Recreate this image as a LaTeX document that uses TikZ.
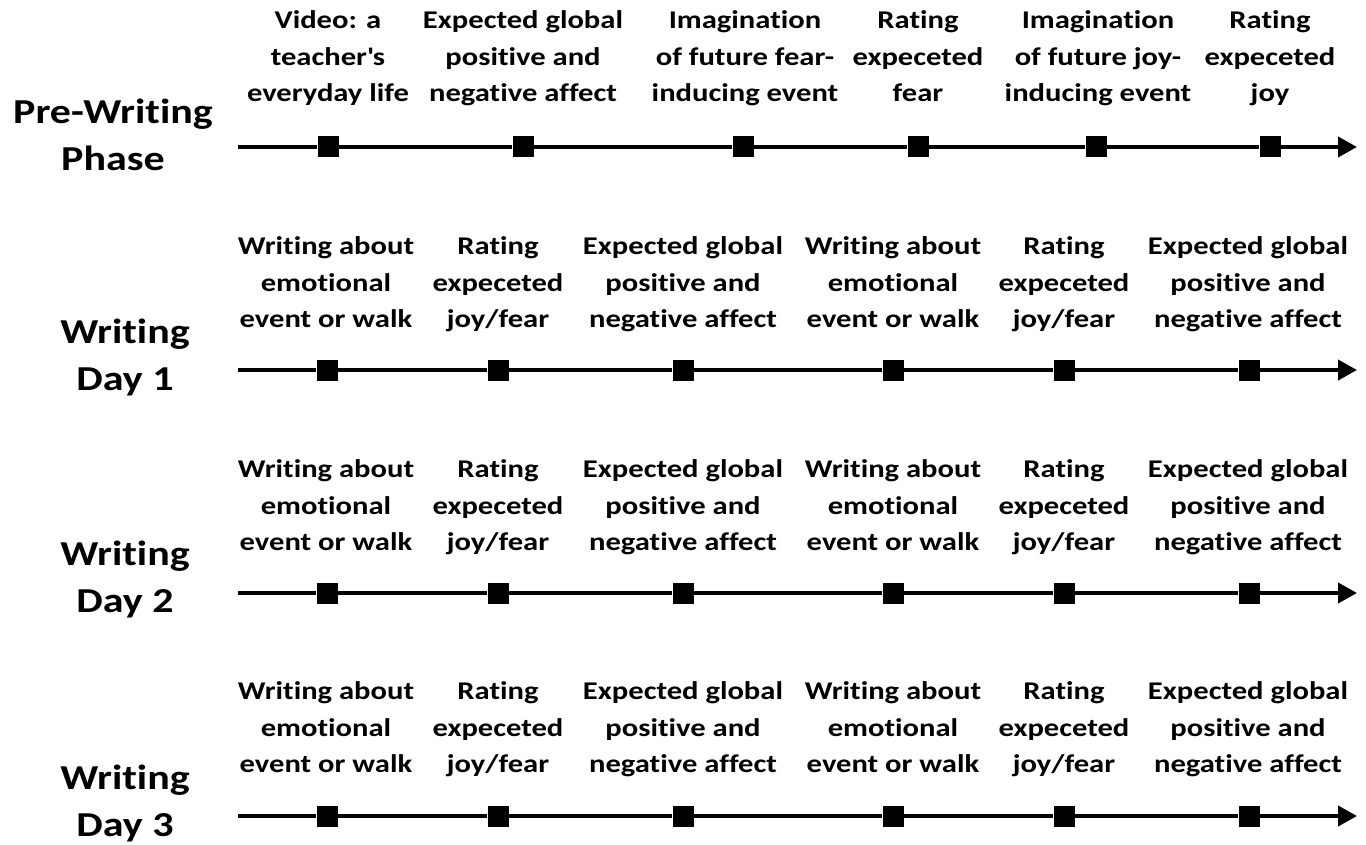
\documentclass[tikz,border=0pt]{standalone}
\usepackage{fontspec}
\setmainfont{Carlito}[Ligatures={TeX,NoCommon}, FakeStretch=1.2]
\usetikzlibrary{arrows.meta}

\tikzset{
  timeline/.style={line width=4pt, -{Triangle[length=19pt,width=20pt]}},
  stamp/.style={rectangle, fill=black, minimum size=21pt, inner sep=0pt},
  event/.style={font=\bfseries\fontsize{25.5}{36.5}\selectfont, align=center, inner sep=0pt,
    execute at begin node=\strut, execute at end node=\strut},
  phase/.style={font=\bfseries\fontsize{35}{47}\selectfont, align=center, inner sep=0pt,
    execute at begin node=\strut, execute at end node=\strut}
}

\begin{document}
\begin{tikzpicture}[x=1pt, y=-1pt]
        \useasboundingbox (0,0) rectangle (1366,845);
        %% pre-writing phase
        \node[phase] (prelabel) at (113,142) {Pre-Writing\\Phase};
        \node[event] (pretxt1) at (328,62) {Video: a\\teacher\textquotesingle s\\everyday life};
        \node[event] (pretxt2) at (523,62) {Expected global\\positive and\\negative affect};
        \node[event] (pretxt3) at (745,62) {Imagination\\of future fear-\\inducing event};
        \node[event] (pretxt4) at (918,62) {Rating\\expeceted\\fear};
        \node[event] (pretxt5) at (1098,62) {Imagination\\of future joy-\\inducing event};
        \node[event] (pretxt6) at (1270,62) {Rating\\expeceted\\joy};
        \coordinate (prestart) at (238,147);
        \coordinate (preend) at (1357,147);
        \node[stamp] (pre1) at (328,147) {};
        \node[stamp] (pre2) at (523,147) {};
        \node[stamp] (pre3) at (743,147) {};
        \node[stamp] (pre4) at (918,147) {};
        \node[stamp] (pre5) at (1096,147) {};
        \node[stamp] (pre6) at (1270,147) {};
        \draw[timeline] (prestart) -- (pre1) -- (pre2) -- (pre3) -- (pre4) -- (pre5) -- (pre6) -- (preend);
        %% writing day 1
        \node[phase] (dayalabel) at (125,362) {Writing\\Day 1};
        \node[event] (dayatxt1) at (326,288) {Writing about\\emotional\\event or walk};
        \node[event] (dayatxt2) at (498,288) {Rating\\expeceted\\joy/fear};
        \node[event] (dayatxt3) at (683,288) {Expected global\\positive and\\negative affect};
        \node[event] (dayatxt4) at (893,288) {Writing about\\emotional\\event or walk};
        \node[event] (dayatxt5) at (1064,288) {Rating\\expeceted\\joy/fear};
        \node[event] (dayatxt6) at (1248,288) {Expected global\\positive and\\negative affect};
        \coordinate (dayastart) at (238,370);
        \coordinate (dayaend) at (1357,370);
        \node[stamp] (daya1) at (327,370) {};
        \node[stamp] (daya2) at (498,370) {};
        \node[stamp] (daya3) at (683,370) {};
        \node[stamp] (daya4) at (893,370) {};
        \node[stamp] (daya5) at (1064,370) {};
        \node[stamp] (daya6) at (1249,370) {};
        \draw[timeline] (dayastart) -- (daya1) -- (daya2) -- (daya3) -- (daya4) -- (daya5) -- (daya6) -- (dayaend);
        %% writing day 2
        \node[phase] (dayblabel) at (125,584) {Writing\\Day 2};
        \node[event] (daybtxt1) at (326,511) {Writing about\\emotional\\event or walk};
        \node[event] (daybtxt2) at (498,511) {Rating\\expeceted\\joy/fear};
        \node[event] (daybtxt3) at (683,511) {Expected global\\positive and\\negative affect};
        \node[event] (daybtxt4) at (893,511) {Writing about\\emotional\\event or walk};
        \node[event] (daybtxt5) at (1064,511) {Rating\\expeceted\\joy/fear};
        \node[event] (daybtxt6) at (1248,511) {Expected global\\positive and\\negative affect};
        \coordinate (daybstart) at (238,593);
        \coordinate (daybend) at (1357,593);
        \node[stamp] (dayb1) at (327,593) {};
        \node[stamp] (dayb2) at (498,593) {};
        \node[stamp] (dayb3) at (683,593) {};
        \node[stamp] (dayb4) at (893,593) {};
        \node[stamp] (dayb5) at (1064,593) {};
        \node[stamp] (dayb6) at (1249,593) {};
        \draw[timeline] (daybstart) -- (dayb1) -- (dayb2) -- (dayb3) -- (dayb4) -- (dayb5) -- (dayb6) -- (daybend);
        %% writing day 3
        \node[phase] (dayclabel) at (125,808) {Writing\\Day 3};
        \node[event] (dayctxt1) at (326,733) {Writing about\\emotional\\event or walk};
        \node[event] (dayctxt2) at (498,733) {Rating\\expeceted\\joy/fear};
        \node[event] (dayctxt3) at (683,733) {Expected global\\positive and\\negative affect};
        \node[event] (dayctxt4) at (893,733) {Writing about\\emotional\\event or walk};
        \node[event] (dayctxt5) at (1064,733) {Rating\\expeceted\\joy/fear};
        \node[event] (dayctxt6) at (1248,733) {Expected global\\positive and\\negative affect};
        \coordinate (daycstart) at (238,816);
        \coordinate (daycend) at (1357,816);
        \node[stamp] (dayc1) at (327,816) {};
        \node[stamp] (dayc2) at (498,816) {};
        \node[stamp] (dayc3) at (683,816) {};
        \node[stamp] (dayc4) at (893,816) {};
        \node[stamp] (dayc5) at (1064,816) {};
        \node[stamp] (dayc6) at (1249,816) {};
        \draw[timeline] (daycstart) -- (dayc1) -- (dayc2) -- (dayc3) -- (dayc4) -- (dayc5) -- (dayc6) -- (daycend);
    \end{tikzpicture}
\end{document}
